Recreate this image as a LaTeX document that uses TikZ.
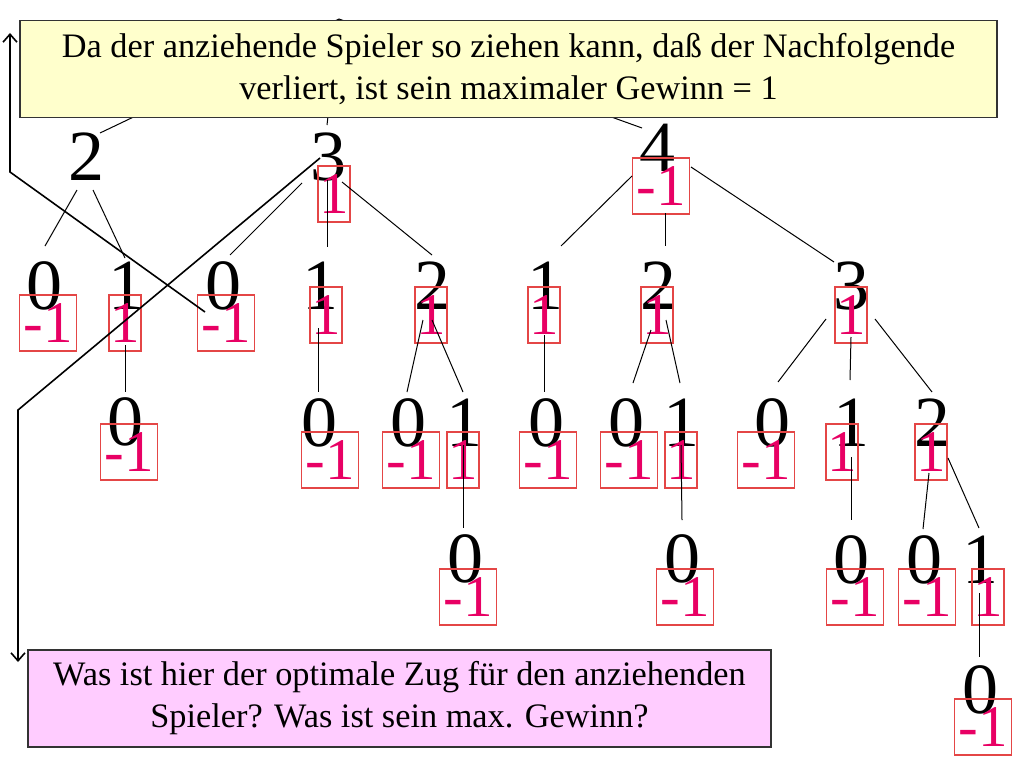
\documentclass[tikz,border=0pt]{standalone}
\usepackage{fontspec}
\setmainfont{Liberation Serif}
\usetikzlibrary{calc,arrows.meta}
\definecolor{valred}{RGB}{232,0,100}
\definecolor{boxred}{RGB}{228,70,70}
\definecolor{noteyellow}{RGB}{255,255,204}
\definecolor{notepink}{RGB}{255,204,255}
\begin{document}
\begin{tikzpicture}[x=1pt,y=-1pt,
  digit/.style={inner sep=0pt, font=\fontsize{72}{72}\selectfont},
  val/.style={draw=boxred, line width=1.1pt, text=valred, inner sep=0pt, minimum height=56, font=\fontsize{59}{59}\selectfont},
  vone/.style={val, minimum width=32},
  vmin/.style={val, minimum width=57},
  edge/.style={line width=1pt, draw=black},
  pointer/.style={line width=1.6pt, draw=black, -{Straight Barb[length=8pt,width=14pt]}},
  note/.style={draw=black!80, line width=1.5pt, align=center, inner sep=0pt, font=\fontsize{34.3}{42}\selectfont}
]
\useasboundingbox (0,0) rectangle (1024,768);
\fill[white] (0,0) rectangle (1024,768);

% hidden root
\coordinate (root) at (339,19);

% level 1
\node[digit] (r2) at (86,157) {2};
\node[digit] (r3) at (328,157) {3};
\node[digit] (r4) at (657,148) {4};
% level 2
\node[digit] (a0) at (45,286) {0};
\node[digit] (a1) at (126,286) {1};
\node[digit] (b0) at (223,286) {0};
\node[digit] (b1) at (320,286) {1};
\node[digit] (b2) at (432,286) {2};
\node[digit] (d1) at (545,286) {1};
\node[digit] (c2) at (658,286) {2};
\node[digit] (c3) at (851,286) {3};
% level 3
\node[digit] (e0) at (125,422) {0};
\node[digit] (f0) at (319,423) {0};
\node[digit] (g0) at (408,423) {0};
\node[digit] (g1) at (464,423) {1};
\node[digit] (h0) at (546,423) {0};
\node[digit] (i0) at (626,423) {0};
\node[digit] (i1) at (681,423) {1};
\node[digit] (j0) at (772,423) {0};
\node[digit] (j1) at (851,423) {1};
\node[digit] (j2) at (932,423) {2};
% level 4
\node[digit] (k0) at (465,559) {0};
\node[digit] (l0) at (682,559) {0};
\node[digit] (m0) at (851,560) {0};
\node[digit] (n0) at (924,560) {0};
\node[digit] (n1) at (980,560) {1};
% level 5
\node[digit] (o0) at (980,690) {0};

% values
\node[vone] (vr3) at (334,194) {1};
\node[vmin] (vr4) at (661,186) {-1};
\node[vmin] (va0) at (48,323) {-1};
\node[vone] (va1) at (125,323) {1};
\node[vmin] (vb0) at (226,323) {-1};
\node[vone] (vb1) at (326,315) {1};
\node[vone] (vb2) at (431,315) {1};
\node[vone] (vd1) at (544,315) {1};
\node[vone] (vc2) at (657,315) {1};
\node[vone] (vc3) at (851,315) {1};
\node[vmin] (ve0) at (129,452) {-1};
\node[vmin] (vf0) at (330,460) {-1};
\node[vmin] (vg0) at (411,460) {-1};
\node[vone] (vg1) at (463,460) {1};
\node[vmin] (vh0) at (548,460) {-1};
\node[vmin] (vi0) at (629,460) {-1};
\node[vone] (vi1) at (681,460) {1};
\node[vmin] (vj0) at (766,460) {-1};
\node[vone] (vj1) at (842,452) {1};
\node[vone] (vj2) at (931,452) {1};
\node[vmin] (vk0) at (468,597) {-1};
\node[vmin] (vl0) at (685,597) {-1};
\node[vmin] (vm0) at (855,597) {-1};
\node[vmin] (vn0) at (927,597) {-1};
\node[vone] (vn1) at (988,597) {1};
\node[vmin] (vo0) at (983,727) {-1};

% edges from hidden root (covered by the note)
\draw[edge] (root) -- ([shift={(14,-24)}]r2.center);
\draw[edge] (root) -- ([shift={(-1,-32)}]r3.center);
\draw[edge] (root) -- ([shift={(-15,-20)}]r4.center);

% tree edges
\draw[edge] ([shift={(-9,33)}]r2.center) -- ([shift={(0,-40)}]a0.center);
\draw[edge] ([shift={(7,33)}]r2.center) -- ([shift={(-1,-28)}]a1.center);
\draw[edge] ([shift={(-1,59)}]a1.center) -- ([shift={(0,-30)}]e0.center);
\draw[edge] ([shift={(-26,26)}]r3.center) -- ([shift={(7,-31)}]b0.center);
\draw[edge] ([shift={(-1,23)}]r3.center) -- ([shift={(7,-39)}]b1.center);
\draw[edge] ([shift={(14,25)}]r3.center) -- ([shift={(0,-31)}]b2.center);
\draw[edge] ([shift={(-2,42)}]b1.center) -- ([shift={(-1,-31)}]f0.center);
\draw[edge] ([shift={(-9,34)}]b2.center) -- ([shift={(-1,-31)}]g0.center);
\draw[edge] ([shift={(0,34)}]b2.center) -- ([shift={(-1,-31)}]g1.center);
\draw[edge] ([shift={(-25,28)}]r4.center) -- ([shift={(16,-40)}]d1.center);
\draw[edge] ([shift={(8,65)}]r4.center) -- ([shift={(7,-40)}]c2.center);
\draw[edge] ([shift={(34,19)}]r4.center) -- ([shift={(-17,-24)}]c3.center);
\draw[edge] ([shift={(-1,49)}]d1.center) -- ([shift={(-2,-31)}]h0.center);
\draw[edge] ([shift={(-7,44)}]c2.center) -- ([shift={(7,-40)}]i0.center);
\draw[edge] ([shift={(8,34)}]c2.center) -- ([shift={(-1,-40)}]i1.center);
\draw[edge] ([shift={(-25,33)}]c3.center) -- ([shift={(6,-41)}]j0.center);
\draw[edge] ([shift={(0,51)}]c3.center) -- ([shift={(-1,-43)}]j1.center);
\draw[edge] ([shift={(24,33)}]c3.center) -- ([shift={(0,-31)}]j2.center);
\draw[edge] ([shift={(-1,22)}]g1.center) -- ([shift={(-2,-31)}]k0.center);
\draw[edge] ([shift={(0,22)}]i1.center) -- ([shift={(0,-39)}]l0.center);
\draw[edge] ([shift={(0,34)}]j1.center) -- ([shift={(0,-40)}]m0.center);
\draw[edge] ([shift={(-3,50)}]j2.center) -- ([shift={(-1,-31)}]n0.center);
\draw[edge] ([shift={(16,35)}]j2.center) -- ([shift={(-1,-32)}]n1.center);
\draw[edge] ([shift={(-1,33)}]n1.center) -- ([shift={(-1,-33)}]o0.center);

% notes
\node[note, fill=noteyellow, minimum width=977, minimum height=97] (topnote) at (508.5,69)
  {Da der anziehende Spieler so ziehen kann, daß der Nachfolgende\\verliert, ist sein maximaler Gewinn = 1};
\node[note, fill=notepink, minimum width=743, minimum height=97] (botnote) at (399.5,698.5)
  {Was ist hier der optimale Zug für den anziehenden\\Spieler? Was ist sein max. Gewinn?};

% pointers
\coordinate (bendA) at (10,172);
\coordinate (tipA) at (10,33);
\coordinate (bendB) at (18,410);
\coordinate (tipB) at (18,662);
\draw[pointer] ([shift={(-18,26)}]b0.center) -- (bendA) -- (tipA);
\draw[pointer] ([shift={(-8,1)}]r3.center) -- (bendB) -- (tipB);
\end{tikzpicture}
\end{document}
